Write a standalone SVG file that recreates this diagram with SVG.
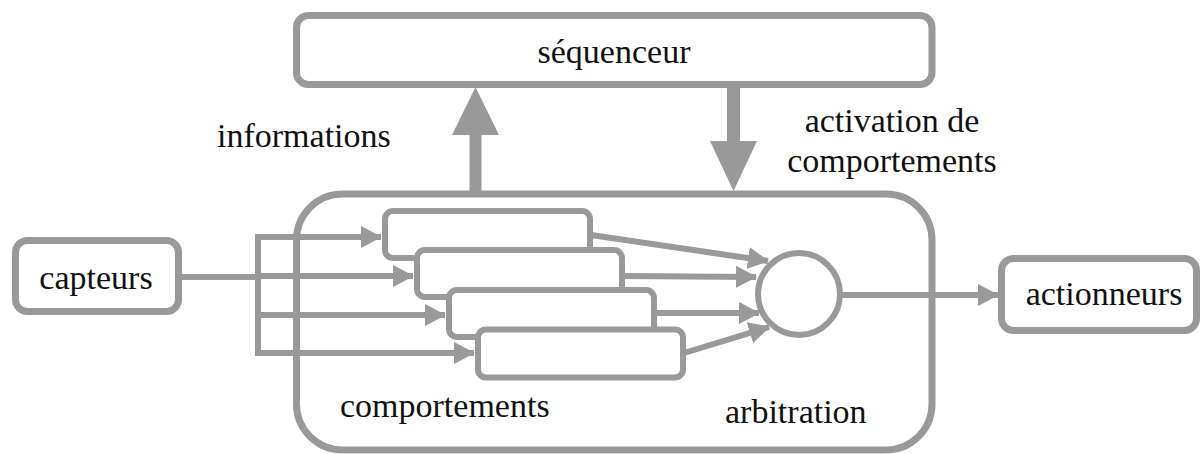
<svg xmlns="http://www.w3.org/2000/svg" width="1201" height="454" viewBox="0 0 1201 454">
<style>
.box{fill:#fff;stroke:#999;stroke-width:7}
.beh{fill:#fff;stroke:#999;stroke-width:6}
.ln{fill:none;stroke:#999;stroke-width:6}
.t{font-family:"Liberation Serif","Times New Roman",serif;font-size:34px;fill:#111}
</style>
<defs>
<marker id="ah" markerUnits="userSpaceOnUse" markerWidth="22" markerHeight="24" refX="20" refY="12" orient="auto" viewBox="0 0 22 24">
<path d="M0,1 L21,12 L0,23 Z" fill="#999"/>
</marker>
</defs>
<g id="bigbox"><rect class="box" x="296.5" y="194" width="635.5" height="256" rx="46"/></g>
<g id="sequenceur"><rect class="box" x="296.5" y="15.5" width="635.5" height="69" rx="12"/><text class="t" x="614" y="63" text-anchor="middle">séquenceur</text></g>
<g id="capteurs"><rect class="box" x="15.5" y="240.5" width="163" height="71" rx="12"/><text class="t" x="96" y="289" text-anchor="middle">capteurs</text></g>
<g id="actionneurs"><rect class="box" x="1001.5" y="258.5" width="195" height="72" rx="12"/><text class="t" x="1104" y="305" text-anchor="middle">actionneurs</text></g>
<g id="comportement1"><rect class="beh" x="385" y="211" width="205" height="47" rx="8"/></g>
<g id="comportement2"><rect class="beh" x="417" y="250" width="205" height="47" rx="8"/></g>
<g id="comportement3"><rect class="beh" x="449" y="290" width="205" height="47" rx="8"/></g>
<g id="comportement4"><rect class="beh" x="478" y="329.5" width="205" height="48" rx="8"/></g>
<g id="arbitre"><circle cx="799" cy="294" r="41" fill="#fff" stroke="#999" stroke-width="6"/></g>
<g id="connectors">
<path class="ln" d="M178.5,277 H258"/>
<path class="ln" d="M258,234 V356"/>
<path class="ln" d="M255,237 H381" marker-end="url(#ah)"/>
<path class="ln" d="M258,276 H413" marker-end="url(#ah)"/>
<path class="ln" d="M255,315 H445" marker-end="url(#ah)"/>
<path class="ln" d="M255,353 H474" marker-end="url(#ah)"/>
<path class="ln" d="M591,235 L768,261" marker-end="url(#ah)"/>
<path class="ln" d="M623,276 L756,277" marker-end="url(#ah)"/>
<path class="ln" d="M655,313 L759,313" marker-end="url(#ah)"/>
<path class="ln" d="M684,353 L769,327" marker-end="url(#ah)"/>
<path class="ln" d="M840,295 H998" marker-end="url(#ah)"/>
<path d="M469.5,194 V135 H452 L475.5,87 L499,135 H481.5 V194 Z" fill="#999"/>
<path d="M727,87 V141 H710 L733.5,191 L757,141 H740 V87 Z" fill="#999"/>
</g>
<g id="labels">
<text class="t" x="217" y="147">informations</text>
<text class="t" x="892" y="132" text-anchor="middle">activation de</text>
<text class="t" x="892" y="172" text-anchor="middle">comportements</text>
<text class="t" x="340" y="417">comportements</text>
<text class="t" x="725" y="423">arbitration</text>
</g>
</svg>
